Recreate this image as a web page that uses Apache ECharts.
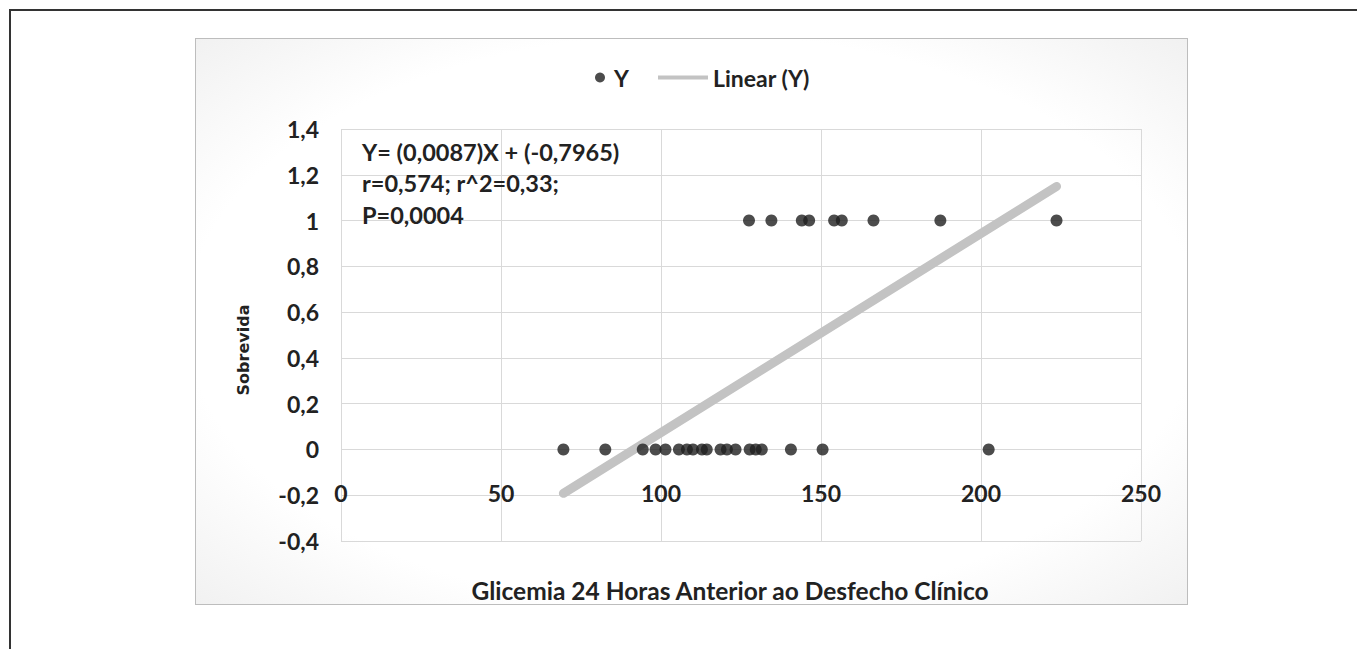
<!DOCTYPE html>
<html>
<head>
<meta charset="utf-8">
<script src="https://cdn.jsdelivr.net/npm/echarts@6/dist/echarts.min.js"></script>
<style>
html,body{margin:0;padding:0;background:#fff;width:1357px;height:649px;overflow:hidden;}
#frame{position:absolute;left:9px;top:9px;width:1400px;height:700px;border-left:2px solid #333;border-top:2px solid #333;}
#box{position:absolute;left:195px;top:38px;width:991px;height:565px;border:1px solid #bdbdbd;
 background:radial-gradient(ellipse at center,#ffffff 72%,#f1f1f1 100%);}
#chart{position:absolute;left:0;top:0;width:1357px;height:649px;}
</style>
</head>
<body>
<div id="frame"></div>
<div id="box"></div>
<div id="chart"></div>
<script>
// Data
const survivorsX = [127.5, 134.5, 144.0, 146.3, 154.1, 156.5, 166.4, 187.3, 223.6]; // Y = 1
const deathsX = [69.5, 82.6, 94.3, 98.3, 101.4, 105.6, 108.1, 110.0, 112.8, 114.3,
                 118.6, 120.6, 123.3, 127.7, 129.6, 131.5, 140.6, 150.5, 202.4]; // Y = 0
const survivorValue = 1;
const deathValue = 0;
const slope = 0.0087;
const intercept = -0.7965;
const xTicks = [0, 50, 100, 150, 200, 250];
const yTicks = [-0.4, -0.2, 0, 0.2, 0.4, 0.6, 0.8, 1, 1.2, 1.4];
const statsLines = ['Y= (0,0087)X + (-0,7965)', 'r=0,574; r^2=0,33;', 'P=0,0004'];
const xTitle = 'Glicemia 24 Horas Anterior ao Desfecho Clínico';
const yTitle = 'Sobrevida';

const points = survivorsX.map(x => [x, survivorValue]).concat(deathsX.map(x => [x, deathValue]));
const allX = survivorsX.concat(deathsX);
const xMin = Math.min(...allX), xMax = Math.max(...allX);
const trend = [[xMin, slope * xMin + intercept], [xMax, slope * xMax + intercept]];

const FONT = "Lato, 'Open Sans', sans-serif";
const TXT = '#222222';
const fmt = v => (Math.round(v * 10) / 10).toString().replace('.', ',');

const chart = echarts.init(document.getElementById('chart'), null, {renderer: 'svg'});
chart.setOption({
  backgroundColor: 'transparent',
  animation: false,
  textStyle: {fontFamily: FONT},
  title: {
    text: statsLines.join('\n'),
    left: 357, top: 131,
    textStyle: {fontFamily: FONT, fontWeight: 'bold', fontSize: 23.5, color: TXT, lineHeight: 31.5}
  },
  legend: [
    {data: [{name: 'Y', icon: 'circle'}], left: 595, top: 66, padding: 0, itemWidth: 10, itemHeight: 10,
     textStyle: {fontFamily: FONT, fontWeight: 'bold', fontSize: 23, color: TXT, padding: [0, 0, 0, 4]}},
    {data: [{name: 'Linear (Y)', icon: 'rect'}], left: 658, top: 66, padding: 0, itemWidth: 50, itemHeight: 4,
     textStyle: {fontFamily: FONT, fontWeight: 'bold', fontSize: 23, color: TXT}}
  ],
  grid: {left: 341, right: 216, top: 129, bottom: 108, containLabel: false},
  graphic: [{
    type: 'text', x: 243, y: 350, rotation: Math.PI / 2,
    style: {text: yTitle, align: 'center', verticalAlign: 'middle',
            font: "bold 16px 'DejaVu Sans', Verdana, sans-serif", fill: TXT}
  }],
  xAxis: {
    type: 'value', min: xTicks[0], max: xTicks[xTicks.length - 1], interval: xTicks[1] - xTicks[0],
    offset: -46,
    axisLine: {show: false}, axisTick: {show: false},
    splitLine: {show: true, lineStyle: {color: '#d9d9d9', width: 1}},
    axisLabel: {margin: -2, verticalAlign: 'middle', fontFamily: FONT, fontWeight: 'bold', fontSize: 23, color: TXT},
    name: xTitle, nameLocation: 'middle', nameGap: 83,
    nameTextStyle: {fontFamily: FONT, fontWeight: 'bold', fontSize: 24.5, color: TXT, padding: [0, 22, 0, 0]}
  },
  yAxis: {
    type: 'value', min: yTicks[0], max: yTicks[yTicks.length - 1], interval: 0.2,
    axisLine: {show: false}, axisTick: {show: false},
    splitLine: {show: true, lineStyle: {color: '#d9d9d9', width: 1}},
    axisLabel: {margin: 22, formatter: fmt, fontFamily: FONT, fontWeight: 'bold', fontSize: 23, color: TXT}
  },
  series: [
    {name: 'Linear (Y)', type: 'line', data: trend, symbol: 'none', z: 1,
     lineStyle: {color: '#c3c3c3', width: 9, cap: 'round'}, itemStyle: {color: '#c3c3c3'}},
    {name: 'Y', type: 'scatter', data: points, symbolSize: 12, z: 3,
     itemStyle: {color: '#1f1f1f'}}
  ]
});
</script>
</body>
</html>
